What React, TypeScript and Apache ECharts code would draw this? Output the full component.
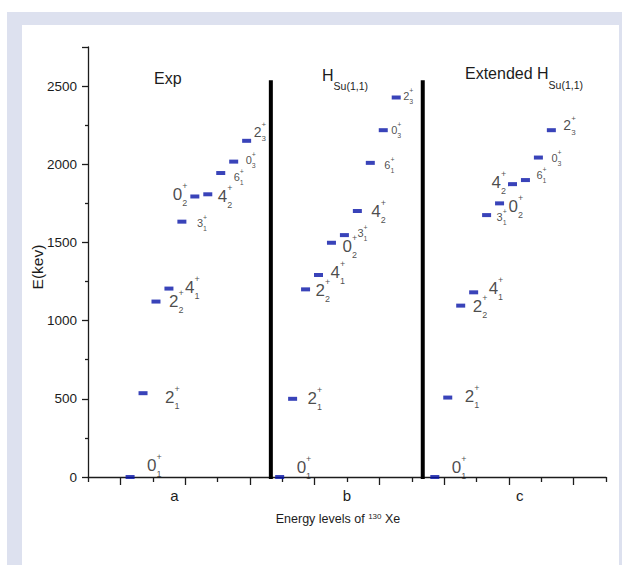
import React, { useEffect, useRef } from 'react';
import * as echarts from 'echarts';

// ---- data ----
const panelNames = ['a', 'b', 'c'];
const expStates = ['0_1', '2_1', '2_2', '4_1', '3_1', '0_2', '4_2', '6_1', '0_3', '2_3'];
const expEnergy = [0, 536, 1122, 1205, 1633, 1794, 1808, 1944, 2017, 2150];
const su11States = ['0_1', '2_1', '2_2', '4_1', '0_2', '3_1', '4_2', '6_1', '0_3', '2_3'];
const su11Energy = [0, 500, 1200, 1292, 1498, 1547, 1701, 2009, 2218, 2427];
const extStates = ['0_1', '2_1', '2_2', '4_1', '3_1', '0_2', '4_2', '6_1', '0_3', '2_3'];
const extEnergy = [0, 508, 1096, 1181, 1675, 1750, 1873, 1899, 2043, 2218];

// ---- layout (positions / styles) ----
const panelStart = [3.25, 14.8, 26.78]; // slot of first level in each panel
const separatorX = [14.12, 25.85];
const separatorRange = [-13, 2537];
// [size, dx(px), dy(px)] label placement relative to dash centre
const expLabelLayout: [string, number, number][] = [
  ['L', 17, -12], ['L', 22, 4], ['L', 13, 0], ['L', 16, -1], ['S', 15, 1],
  ['L', -22, -2], ['L', 10, 2], ['S', 13, 4], ['S', 12, -2], ['M', 7, -9],
];
const su11LabelLayout: [string, number, number][] = [
  ['L', 17, -10], ['L', 15, 0], ['L', 10, 1], ['L', 12, -2], ['L', 11, 4],
  ['S', 13, -2], ['L', 14, 0], ['S', 14, 2], ['S', 8, 0], ['S', 7, -2],
];
const extLabelLayout: [string, number, number][] = [
  ['L', 17, -10], ['L', 17, -1], ['L', 12, 1], ['L', 15, -4], ['S', 10, 2],
  ['L', 9, 3], ['L', -21, -2], ['S', 11, -5], ['S', 13, 0], ['M', 12, -5],
];

const FONT = "'Liberation Sans', Arial, sans-serif";
const INK = '#1c1c1c';
const BLUE = '#0814a8';

const levelRich: any = {
  nL: { fontSize: 17, lineHeight: 26, fontFamily: FONT, color: INK },
  pL: { fontSize: 9, lineHeight: 15, verticalAlign: 'top', width: 0, fontFamily: FONT, color: INK },
  bL: { fontSize: 9, lineHeight: 10, verticalAlign: 'bottom', fontFamily: FONT, color: INK },
  nM: { fontSize: 14, lineHeight: 22, fontFamily: FONT, color: INK },
  pM: { fontSize: 8, lineHeight: 13, verticalAlign: 'top', width: 0, fontFamily: FONT, color: INK },
  bM: { fontSize: 8, lineHeight: 8, verticalAlign: 'bottom', fontFamily: FONT, color: INK },
  nS: { fontSize: 11, lineHeight: 18, fontFamily: FONT, color: INK },
  pS: { fontSize: 7, lineHeight: 10, verticalAlign: 'top', width: 0, fontFamily: FONT, color: INK },
  bS: { fontSize: 7, lineHeight: 7, verticalAlign: 'bottom', fontFamily: FONT, color: INK },
};

function stateLabel(state: string, size: string) {
  const [j, n] = state.split('_');
  return `{n${size}|${j}}{p${size}|+}{b${size}|${n}}`;
}

function buildOption() {
  const panels = [
    { states: expStates, energy: expEnergy, layout: expLabelLayout },
    { states: su11States, energy: su11Energy, layout: su11LabelLayout },
    { states: extStates, energy: extEnergy, layout: extLabelLayout },
  ];
  const levelSeries = panels.map((p, pi) => ({
    type: 'scatter',
    name: panelNames[pi],
    xAxisIndex: 0,
    yAxisIndex: 0,
    symbol: 'rect',
    symbolSize: [9, 4],
    itemStyle: { color: BLUE },
    silent: true,
    z: 3,
    label: {
      show: true,
      position: 'inside',
      align: 'left',
      verticalAlign: 'middle',
      color: INK,
      rich: levelRich,
    },
    data: p.energy.map((e, i) => ({
      value: [panelStart[pi] + i, e],
      label: {
        offset: [p.layout[i][1], p.layout[i][2]],
        formatter: stateLabel(p.states[i], p.layout[i][0]),
      },
    })),
  }));
  const sepSeries = separatorX.map((x) => ({
    type: 'line',
    xAxisIndex: 0,
    yAxisIndex: 0,
    symbol: 'none',
    clip: false,
    silent: true,
    z: 2,
    lineStyle: { color: '#000', width: 4 },
    data: [[x, separatorRange[0]], [x, separatorRange[1]]],
  }));

  const axisLineStyle = { color: INK, width: 1.3 };
  return {
    animation: false,
    backgroundColor: 'transparent',
    textStyle: { fontFamily: FONT },
    grid: { left: 88, right: 16, top: 47, bottom: 88, containLabel: false, outerBoundsMode: 'none' },
    xAxis: [
      {
        type: 'value',
        min: 0,
        max: 40,
        interval: 5,
        offset: 2,
        position: 'bottom',
        axisLine: { show: true, lineStyle: axisLineStyle },
        axisTick: { show: true, length: 5, lineStyle: axisLineStyle },
        minorTick: { show: true, splitNumber: 2, length: 8, lineStyle: axisLineStyle },
        axisLabel: { show: false },
        splitLine: { show: false },
        minorSplitLine: { show: false },
      },
      {
        type: 'category',
        data: panelNames,
        position: 'bottom',
        boundaryGap: true,
        axisLine: { show: false },
        axisTick: { show: false },
        axisLabel: { fontSize: 15, color: INK, margin: 11, fontFamily: FONT },
        splitLine: { show: false },
      },
    ],
    yAxis: {
      type: 'value',
      min: 0,
      max: 2750,
      interval: 500,
      name: 'E(kev)',
      nameLocation: 'middle',
      nameGap: 43,
      nameMoveOverlap: false,
      nameTextStyle: { fontSize: 15.5, color: INK, fontFamily: FONT, padding: [0, 10, 0, 0] },
      axisLine: { show: true, lineStyle: axisLineStyle },
      axisTick: { show: true, length: 6, lineStyle: axisLineStyle },
      minorTick: { show: true, splitNumber: 2, length: 3, lineStyle: axisLineStyle },
      axisLabel: {
        fontSize: 13.5,
        color: INK,
        margin: 11,
        showMaxLabel: false,
        fontFamily: FONT,
        formatter: (v: number) => String(v),
      },
      splitLine: { show: false },
      minorSplitLine: { show: false },
    },
    graphic: [
      {
        type: 'text',
        x: 154,
        y: 70,
        silent: true,
        style: { text: 'Exp', fontSize: 16, fontFamily: FONT, fill: INK, verticalAlign: 'top' },
      },
      {
        type: 'text',
        x: 322,
        y: 67,
        silent: true,
        style: {
          text: '{m|H}{s|Su(1,1)}',
          fill: INK,
          verticalAlign: 'top',
          rich: {
            m: { fontSize: 16, lineHeight: 16, verticalAlign: 'top', fontFamily: FONT, fill: INK },
            s: { fontSize: 10.5, lineHeight: 8, padding: [13, 0, 0, 0], verticalAlign: 'top', fontFamily: FONT, fill: INK },
          },
        },
      },
      {
        type: 'text',
        x: 465,
        y: 65,
        silent: true,
        style: {
          text: '{m|Extended H}{s|Su(1,1)}',
          fill: INK,
          verticalAlign: 'top',
          rich: {
            m: { fontSize: 16, lineHeight: 16, verticalAlign: 'top', fontFamily: FONT, fill: INK },
            s: { fontSize: 10.5, lineHeight: 8, padding: [14, 0, 0, 0], verticalAlign: 'top', fontFamily: FONT, fill: INK },
          },
        },
      },
      {
        type: 'text',
        x: 338,
        y: 512,
        silent: true,
        style: {
          text: '{m|Energy levels of }{s|130}{m| Xe}',
          fill: INK,
          align: 'center',
          verticalAlign: 'top',
          rich: {
            m: { fontSize: 12.5, lineHeight: 14, verticalAlign: 'top', fontFamily: FONT, fill: INK },
            s: { fontSize: 8, lineHeight: 8, verticalAlign: 'top', fontFamily: FONT, fill: INK },
          },
        },
      },
    ],
    series: [...sepSeries, ...levelSeries],
  };
}

export default function App() {
  const ref = useRef<HTMLDivElement>(null);
  useEffect(() => {
    if (!ref.current) return;
    const chart = echarts.init(ref.current, null, { renderer: 'svg' });
    chart.setOption(buildOption() as any);
    return () => chart.dispose();
  }, []);
  return (
    <div style={{ position: 'fixed', left: 0, top: 0, width: 622, height: 565, background: '#fff', overflow: 'hidden' }}>
      <div style={{ position: 'absolute', left: 7, top: 12, width: 615, height: 553, background: '#dde1ef' }} />
      <div style={{ position: 'absolute', left: 22, top: 25, width: 597, height: 540, background: '#fff' }} />
      <div ref={ref} style={{ position: 'absolute', left: 0, top: 0, width: 622, height: 565 }} />
    </div>
  );
}
